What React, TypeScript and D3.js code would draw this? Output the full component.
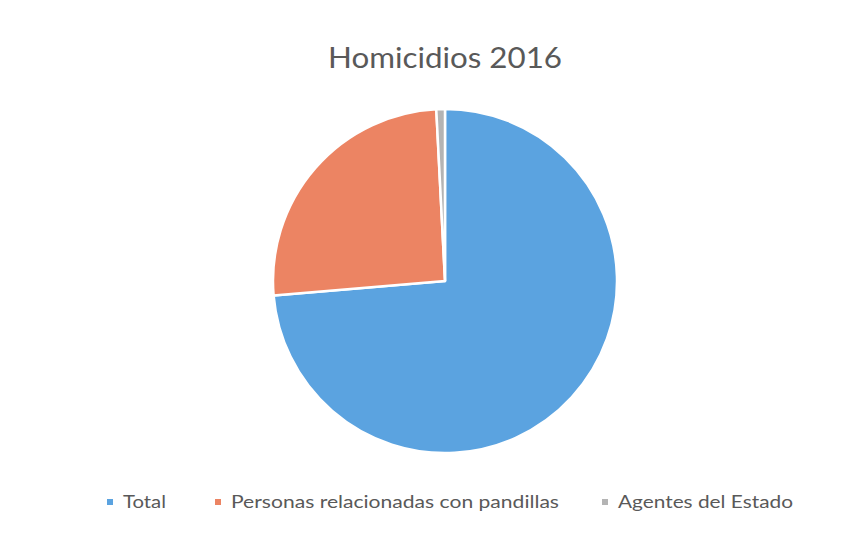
import React from "react";
import * as d3 from "d3";

const categories = ["Total", "Personas relacionadas con pandillas", "Agentes del Estado"];
const values = [5278, 1830, 58];
const colors = ["#5BA3E0", "#EC8463", "#B4B4B4"];
const title = "Homicidios 2016";

export default function App() {
  const W = 865, H = 535;
  const cx = 445, cy = 281, r = 172;
  const pie = d3.pie<number>().sort(null).value((d) => d);
  const arcs = pie(values);
  const arc = d3.arc<d3.PieArcDatum<number>>().innerRadius(0).outerRadius(r);
  const legendX = [107, 215, 602];
  const legendTextW = [43, 328, 175];
  return (
    <svg width={W} height={H} style={{ position: "absolute", left: 0, top: 0, background: "#fff" }}>
      <rect x={0} y={0} width={W} height={H} fill="#fff" />
      <text x={328} y={68} textLength={234} lengthAdjust="spacingAndGlyphs" fontFamily="Lato, 'Open Sans', sans-serif" fontSize={29} fill="#595959">
        {title}
      </text>
      <g transform={`translate(${cx},${cy})`}>
        {arcs.map((a, i) => (
          <path key={i} d={arc(a) as string} fill={colors[i]} stroke="#fff" strokeWidth={2.5} strokeLinejoin="round" />
        ))}
      </g>
      {categories.map((c, i) => (
        <g key={c} transform={`translate(${legendX[i]},508)`}>
          <rect x={0} y={-9} width={6} height={6} fill={colors[i]} />
          <text x={16} y={0} textLength={legendTextW[i]} lengthAdjust="spacingAndGlyphs" fontFamily="Lato, 'Open Sans', sans-serif" fontSize={18} fill="#595959">
            {c}
          </text>
        </g>
      ))}
    </svg>
  );
}
